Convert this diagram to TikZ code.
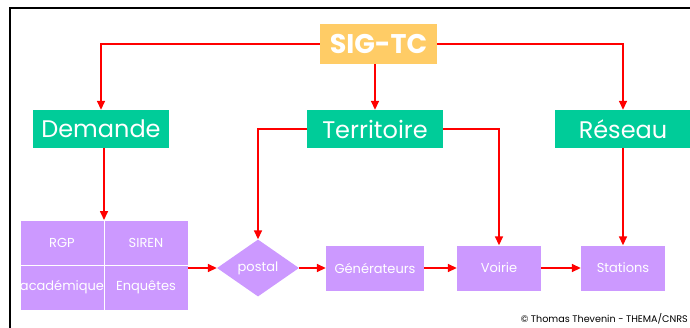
\documentclass[tikz,border=0pt]{standalone}
\usepackage{fontspec}
\setmainfont{Poppins}
\usetikzlibrary{arrows.meta,shapes.geometric,calc}
\definecolor{orng}{HTML}{FFCC66}
\definecolor{grn}{HTML}{00CC99}
\definecolor{purp}{HTML}{CC99FF}
\definecolor{redl}{HTML}{FF0000}
\tikzset{
  topbox/.style={fill=orng,text=white,minimum width=117pt,minimum height=40pt,inner sep=0pt,font=\fontsize{27}{30}\selectfont\bfseries},
  catbox/.style={fill=grn,text=white,minimum width=136pt,minimum height=38pt,inner sep=0pt,font=\fontsize{24}{27}\selectfont},
  pbox/.style={fill=purp,text=white,inner sep=0pt,font=\fontsize{13}{15}\selectfont},
  cell/.style={pbox,draw=white,line width=0.8pt,minimum width=84pt,minimum height=45pt},
  arr/.style={draw=redl,line width=1.6pt,-{Triangle[length=9pt,width=8pt]}},
  frame/.style={draw=black,line width=2pt}
}
\begin{document}
\begin{tikzpicture}[x=1pt,y=-1pt]
\useasboundingbox (0,0) rectangle (690,327);
\draw[frame] (10,330) -- (10,8) -- (695,8);
\node[topbox] (sig) at (378.5,44) {SIG-TC};
\node[catbox] (dem) at (101,129) {Demande};
\node[catbox] (ter) at (375,129) {Territoire};
\node[catbox] (res) at (623,129) {Réseau};
\node[cell] (rgp) at (62,242.5) {RGP};
\node[cell] (siren) at (146,242.5) {SIREN};
\node[cell] (acad) at (62,287.5) {académique};
\node[cell] (enq) at (146,287.5) {Enquêtes};
\coordinate (gtop) at (104,220);
\coordinate (gright) at (188,268);
\node[diamond,pbox,minimum width=82pt,minimum height=57pt,aspect=1.44] (postal) at (258,268) {postal};
\node[pbox,minimum width=98pt,minimum height=45pt] (gen) at (375,268) {Générateurs};
\node[pbox,minimum width=84pt,minimum height=45pt] (voi) at (499,268) {Voirie};
\node[pbox,minimum width=84pt,minimum height=45pt] (sta) at (623,268) {Stations};
\node[anchor=base east,inner sep=0pt,font=\fontsize{9.6}{11}\selectfont] (copy) at (688,322) {© Thomas Thevenin - THEMA/CNRS};
\draw[arr] (sig.west) -| (dem.north);
\draw[arr] (sig.east) -| (res.north);
\draw[arr] (sig.south -| ter.north) -- (ter.north);
\draw[arr] (ter.west) -| (postal.north);
\draw[arr] (ter.east) -| (voi.north);
\draw[arr] (dem.south -| gtop) -- (gtop);
\draw[arr] (res.south) -- (sta.north);
\draw[arr] (gright) -- (postal.west);
\draw[arr] (postal.east) -- (gen.west);
\draw[arr] (gen.east) -- (voi.west);
\draw[arr] (voi.east) -- (sta.west);
\end{tikzpicture}
\end{document}
